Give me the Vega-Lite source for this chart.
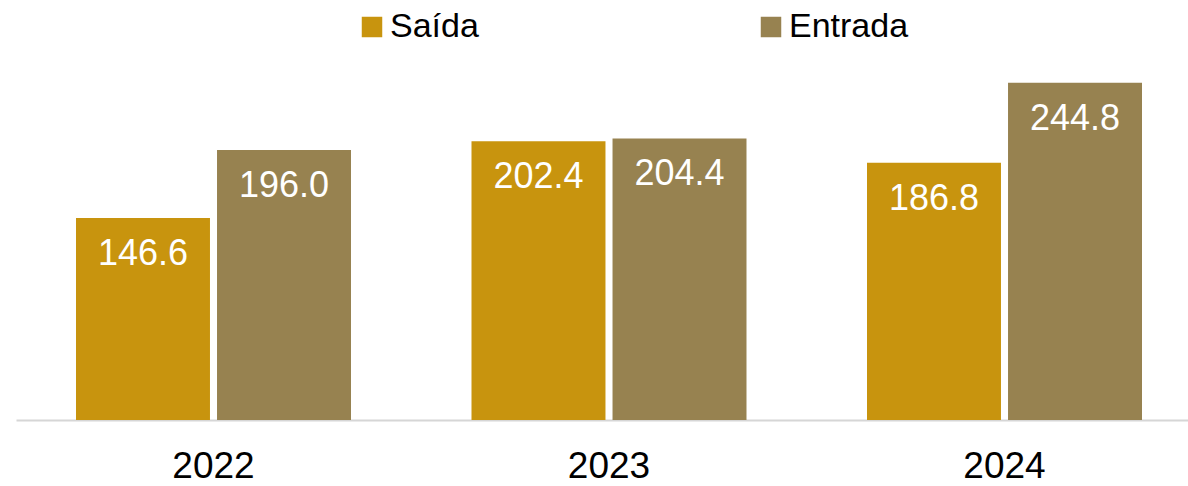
{
  "$schema": "https://vega.github.io/schema/vega-lite/v6.json",
  "width": 1186,
  "height": 360,
  "autosize": {"type": "none"},
  "padding": {"left": 16, "top": 60, "right": 0, "bottom": 66},
  "background": "white",
  "config": {"view": {"stroke": null}},
  "data": {
    "values": [
      {"year": "2022", "series": "Saída", "value": 146.6},
      {"year": "2022", "series": "Entrada", "value": 196.0},
      {"year": "2023", "series": "Saída", "value": 202.4},
      {"year": "2023", "series": "Entrada", "value": 204.4},
      {"year": "2024", "series": "Saída", "value": 186.8},
      {"year": "2024", "series": "Entrada", "value": 244.8}
    ]
  },
  "encoding": {
    "x": {
      "field": "year",
      "type": "nominal",
      "title": null,
      "scale": {"paddingInner": 0.3047, "paddingOuter": 0.1517},
      "axis": {
        "labelAngle": 0,
        "ticks": false,
        "tickSize": 0,
        "grid": false,
        "domainColor": "#D6D6D6",
        "domainWidth": 2,
        "labelFont": "Liberation Sans",
        "labelFontSize": 37,
        "labelColor": "#000000",
        "labelBaseline": "alphabetic",
        "labelPadding": 57
      }
    },
    "xOffset": {
      "field": "series",
      "type": "nominal",
      "sort": ["Saída", "Entrada"],
      "scale": {"paddingInner": 0.05, "paddingOuter": 0}
    },
    "y": {
      "field": "value",
      "type": "quantitative",
      "scale": {"domain": [0, 261.3], "nice": false, "zero": true},
      "axis": null
    }
  },
  "layer": [
    {
      "mark": {"type": "bar"},
      "encoding": {
        "color": {
          "field": "series",
          "type": "nominal",
          "sort": ["Saída", "Entrada"],
          "scale": {"domain": ["Saída", "Entrada"], "range": ["#C8940E", "#978250"]},
          "legend": {
            "title": null,
            "orient": "none",
            "legendX": 339,
            "legendY": -50,
            "direction": "horizontal",
            "symbolType": "square",
            "symbolSize": 420,
            "symbolStrokeWidth": 0,
            "labelFont": "Liberation Sans",
            "labelFontSize": 34,
            "labelColor": "#000000",
            "labelOffset": 1,
            "columnPadding": 275,
            "labelLimit": 300
          }
        }
      }
    },
    {
      "mark": {
        "type": "text",
        "baseline": "alphabetic",
        "dy": 47,
        "fontSize": 36,
        "font": "Liberation Sans",
        "color": "#FFFFFF"
      },
      "encoding": {
        "text": {"field": "value", "type": "quantitative", "format": ".1f"}
      }
    }
  ]
}
